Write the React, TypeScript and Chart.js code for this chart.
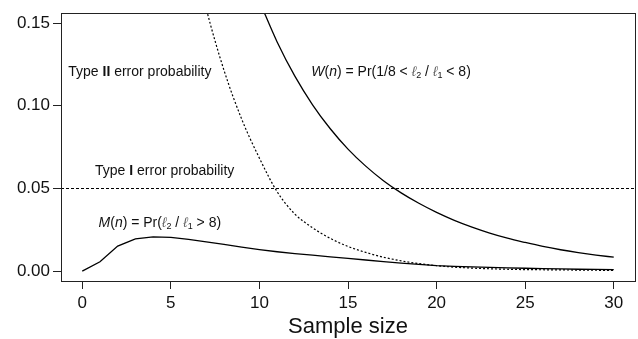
import { useEffect, useRef } from 'react';
import { Chart, registerables } from 'chart.js';

Chart.register(...registerables);

const FONT = '"Liberation Sans", Arial, Helvetica, "DejaVu Sans", sans-serif';

// Sample sizes (x) and the three probability curves
const SAMPLE_SIZES = [0, 1, 2, 3, 4, 5, 6, 7, 8, 9, 10, 11, 12, 13, 14, 15, 16, 17, 18, 19, 20, 21, 22, 23, 24, 25, 26, 27, 28, 29, 30];
const M_VALUES = [0, 0.0056, 0.0151, 0.0195, 0.0207, 0.0204, 0.0192, 0.0177, 0.0161, 0.0145, 0.013, 0.0117, 0.0106, 0.0096, 0.0086, 0.0077, 0.0067, 0.0057, 0.0048, 0.004, 0.0033, 0.0029, 0.0025, 0.0022, 0.0019, 0.0017, 0.0015, 0.0013, 0.0011, 0.001, 0.0009];

const W_SIZES = [10, 11, 12, 13, 14, 15, 16, 17, 18, 19, 20, 21, 22, 23, 24, 25, 26, 27, 28, 29, 30];
const W_VALUES = [0.1632, 0.1386, 0.1179, 0.1006, 0.0861, 0.0738, 0.0635, 0.0547, 0.0473, 0.041, 0.0355, 0.0307, 0.0266, 0.023, 0.0199, 0.0173, 0.0149, 0.0129, 0.0112, 0.0097, 0.0084];

const TYPE2_SIZES = [6, 7, 8, 9, 10, 11, 12, 13, 14, 15, 16, 17, 18, 19, 20, 21, 22, 23, 24, 25, 26, 27, 28, 29, 30];
const TYPE2_VALUES = [0.205, 0.1587, 0.1215, 0.0919, 0.0683, 0.048, 0.0345, 0.0262, 0.0198, 0.0149, 0.0113, 0.0084, 0.0062, 0.0045, 0.0033, 0.0024, 0.0018, 0.0014, 0.0011, 0.0009, 0.0008, 0.0007, 0.0006, 0.0005, 0.0004];

const TYPE1_LEVEL = 0.05;

const X_TICKS = [0, 5, 10, 15, 20, 25, 30];
const Y_TICKS = [0, 0.05, 0.1, 0.15];
const X_MIN = -1.2;
const X_MAX = 31.2;
const Y_MIN = -0.006;
const Y_MAX = 0.156;
const X_TITLE = 'Sample size';

type Seg = { t: string; italic?: boolean; bold?: boolean; sub?: boolean; color?: string };
type Note = { x: number; y: number; segs: Seg[] };

const ELL_COLOR = '#666';
const NOTES: Note[] = [
  { x: -0.79, y: 0.1205, segs: [{ t: 'Type ' }, { t: 'II', bold: true }, { t: ' error probability' }] },
  { x: 0.72, y: 0.0603, segs: [{ t: 'Type ' }, { t: 'I', bold: true }, { t: ' error probability' }] },
  {
    x: 12.93, y: 0.1205, segs: [
      { t: 'W', italic: true }, { t: '(' }, { t: 'n', italic: true }, { t: ') = Pr(1/8 < ' },
      { t: 'ℓ', italic: true, color: ELL_COLOR }, { t: '2', sub: true }, { t: ' / ' },
      { t: 'ℓ', italic: true, color: ELL_COLOR }, { t: '1', sub: true }, { t: ' < 8)' },
    ],
  },
  {
    x: 0.92, y: 0.0292, segs: [
      { t: 'M', italic: true }, { t: '(' }, { t: 'n', italic: true }, { t: ') = Pr(' },
      { t: 'ℓ', italic: true, color: ELL_COLOR }, { t: '2', sub: true }, { t: ' / ' },
      { t: 'ℓ', italic: true, color: ELL_COLOR }, { t: '1', sub: true }, { t: ' > 8)' },
    ],
  },
];

const NOTE_SIZE = 14;

function segFont(s: Seg) {
  const size = s.sub ? 9 : NOTE_SIZE;
  return `${s.italic ? 'italic ' : ''}${s.bold ? 'bold ' : ''}${size}px ${FONT}`;
}

const decorPlugin = {
  id: 'decor',
  beforeDatasetsDraw(chart: any) {
    const { ctx, chartArea: a, scales } = chart;
    const y = Math.round(scales.y.getPixelForValue(TYPE1_LEVEL)) + 0.5;
    ctx.save();
    ctx.beginPath();
    ctx.setLineDash([3, 2]);
    ctx.strokeStyle = '#000';
    ctx.lineWidth = 1;
    ctx.moveTo(a.left, y);
    ctx.lineTo(a.right, y);
    ctx.stroke();
    ctx.restore();
  },
  afterDraw(chart: any) {
    const { ctx, chartArea: a, scales } = chart;
    ctx.save();
    ctx.strokeStyle = '#222';
    ctx.lineWidth = 1;
    ctx.setLineDash([]);
    ctx.strokeRect(Math.round(a.left) + 0.5, Math.round(a.top) + 0.5, Math.round(a.right - a.left), Math.round(a.bottom - a.top));

    // annotations
    ctx.textBaseline = 'middle';
    ctx.textAlign = 'left';
    for (const n of NOTES) {
      let px = scales.x.getPixelForValue(n.x);
      const py = scales.y.getPixelForValue(n.y);
      for (const s of n.segs) {
        ctx.font = segFont(s);
        ctx.fillStyle = s.color || '#111';
        ctx.fillText(s.t, px, s.sub ? py + 4 : py);
        px += ctx.measureText(s.t).width;
      }
    }

    // x axis title
    ctx.font = `22px ${FONT}`;
    ctx.fillStyle = '#111';
    ctx.textAlign = 'center';
    ctx.textBaseline = 'alphabetic';
    ctx.fillText(X_TITLE, (a.left + a.right) / 2, 333);
    ctx.restore();
  },
};

export default function App() {
  const ref = useRef<HTMLCanvasElement | null>(null);
  useEffect(() => {
    if (!ref.current) return;
    const pts = (xs: number[], ys: number[]) => xs.map((x, i) => ({ x, y: ys[i] }));
    const chart = new Chart(ref.current, {
      type: 'line',
      data: {
        datasets: [
          {
            label: 'M(n)',
            data: pts(SAMPLE_SIZES, M_VALUES),
            borderColor: '#000',
            borderWidth: 1.3,
            pointRadius: 0,
            tension: 0,
            fill: false,
          },
          {
            label: 'W(n)',
            data: pts(W_SIZES, W_VALUES),
            borderColor: '#000',
            borderWidth: 1.3,
            pointRadius: 0,
            cubicInterpolationMode: 'monotone',
            fill: false,
          },
          {
            label: 'Type II error probability',
            data: pts(TYPE2_SIZES, TYPE2_VALUES),
            borderColor: '#000',
            borderWidth: 1.2,
            borderDash: [2, 2],
            pointRadius: 0,
            cubicInterpolationMode: 'monotone',
            fill: false,
          },
        ],
      },
      options: {
        animation: false,
        responsive: false,
        devicePixelRatio: 1,
        layout: { padding: { top: 13, right: 3, left: 0, bottom: 0 } },
        plugins: { legend: { display: false }, tooltip: { enabled: false } },
        scales: {
          x: {
            type: 'linear',
            min: X_MIN,
            max: X_MAX,
            afterBuildTicks: (s: any) => { s.ticks = X_TICKS.map((v) => ({ value: v })); },
            afterFit: (s: any) => { s.height = 58; },
            ticks: {
              font: { size: 17, family: FONT },
              color: '#111',
              padding: 4,
              maxRotation: 0,
              autoSkip: false,
              callback: (v: any) => String(v),
            },
            grid: { drawOnChartArea: false, drawTicks: true, tickLength: 8, color: '#222' },
            border: { display: true, color: '#222' },
          },
          y: {
            type: 'linear',
            min: Y_MIN,
            max: Y_MAX,
            afterBuildTicks: (s: any) => { s.ticks = Y_TICKS.map((v) => ({ value: v })); },
            afterFit: (s: any) => { s.width = 61; },
            ticks: {
              font: { size: 17, family: FONT },
              color: '#111',
              padding: 3,
              autoSkip: false,
              callback: (v: any) => Number(v).toFixed(2),
            },
            grid: { drawOnChartArea: false, drawTicks: true, tickLength: 8, color: '#222' },
            border: { display: true, color: '#222' },
          },
        },
      },
      plugins: [decorPlugin],
    });
    return () => chart.destroy();
  }, []);
  return (
    <div style={{ position: 'absolute', left: 0, top: 0, width: 638, height: 339, background: '#fff' }}>
      <canvas ref={ref} width={638} height={339} />
    </div>
  );
}
